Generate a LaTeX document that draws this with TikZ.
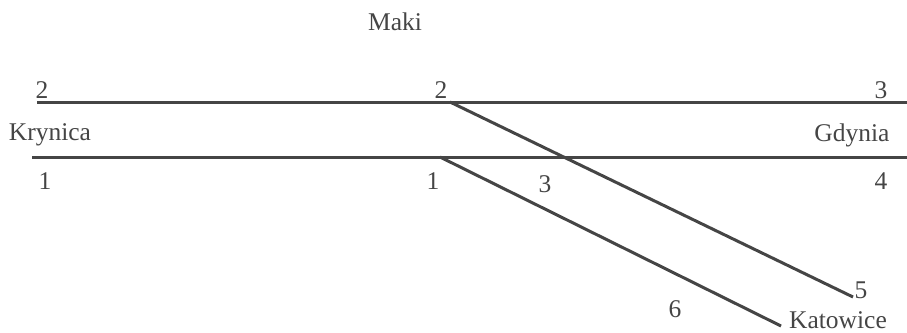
\documentclass[tikz,border=0pt]{standalone}
\usepackage{fontspec}
\setmainfont{Liberation Serif}
\usetikzlibrary{positioning}
\definecolor{ink}{HTML}{454545}

\begin{document}
\begin{tikzpicture}[x=1pt, y=-1pt,
    track/.style={line width=3pt, ink},
    lbl/.style={anchor=base, inner sep=0pt, text=ink, font=\fontsize{25.5}{30}\selectfont}]
    \useasboundingbox (0,0) rectangle (907,332);

    % Track ends
    \coordinate (upW) at (37,102);
    \coordinate (upE) at (907,102);
    \coordinate (loW) at (32,157);
    \coordinate (loE) at (907,157);
    \coordinate (upJ) at (450,102);
    \coordinate (loJ) at (440,157);
    \coordinate (endA) at (853,297);
    \coordinate (endB) at (781,326);

    % Main tracks
    \draw[track] (upW) -- (upE);
    \draw[track] (loW) -- (loE);

    % Branches towards Katowice
    \draw[track] (upJ) -- (endA);
    \draw[track] (loJ) -- (endB);

    % Stations
    \node[lbl] (maki) at (395,30) {Maki};
    \node[lbl] (krynica) at (50,140) {Krynica};
    \node[lbl] (gdynia) at (852,141) {Gdynia};
    \node[lbl] (katowice) at (838,328) {Katowice};

    % Numbers
    \node[lbl] (n2w) at (42,98) {2};
    \node[lbl] (n2m) at (441,98) {2};
    \node[lbl] (n3e) at (881,98) {3};
    \node[lbl] (n1w) at (45,189) {1};
    \node[lbl] (n1m) at (433,189) {1};
    \node[lbl] (n3m) at (545,192) {3};
    \node[lbl] (n4e) at (881,189) {4};
    \node[lbl] (n5) at (861,298) {5};
    \node[lbl] (n6) at (675,317) {6};
\end{tikzpicture}
\end{document}
